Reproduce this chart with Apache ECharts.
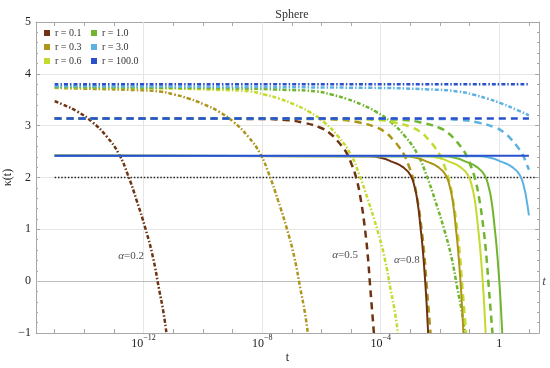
<!DOCTYPE html>
<html><head><meta charset="utf-8">
<script src="https://cdn.jsdelivr.net/npm/echarts@6/dist/echarts.min.js"></script>
<style>html,body{margin:0;padding:0;background:#fff}#c{width:550px;height:368px}</style>
</head><body><div id="c"></div>
<script>
// x values are log10(t), y values are kappa(t)
const rLabels = ['r = 0.1', 'r = 0.3', 'r = 0.6', 'r = 1.0', 'r = 3.0', 'r = 100.0'];
const xLabelExponents = [-12, -8, -4, 0];
const yTicks = [-1, 0, 1, 2, 3, 4, 5];

// alpha = 0.2 (dot-dashed)
const a02_r01 = [[-15,3.47],[-14.73,3.41],[-14.23,3.27],[-13.73,3.07],[-13.23,2.78],[-12.83,2.45],[-12.53,2.05],[-12.23,1.55],[-11.93,1.0],[-11.68,0.45],[-11.48,-0.15],[-11.33,-0.6],[-11.23,-1]];
const a02_r03 = [[-15,3.73],[-14.46,3.72],[-12.46,3.69],[-11.46,3.66],[-10.96,3.60],[-10.46,3.52],[-9.96,3.41],[-9.46,3.27],[-8.96,3.07],[-8.46,2.78],[-8.06,2.45],[-7.76,2.05],[-7.46,1.55],[-7.16,1.0],[-6.91,0.45],[-6.71,-0.15],[-6.56,-0.6],[-6.46,-1]];
const a02_r06 = [[-15,3.74],[-11.42,3.72],[-9.42,3.69],[-8.42,3.66],[-7.92,3.60],[-7.42,3.52],[-6.92,3.41],[-6.42,3.27],[-5.92,3.07],[-5.42,2.78],[-5.02,2.45],[-4.72,2.05],[-4.42,1.55],[-4.12,1.0],[-3.87,0.45],[-3.67,-0.15],[-3.52,-0.6],[-3.42,-1]];
const a02_r10 = [[-15,3.74],[-9.16,3.72],[-7.16,3.69],[-6.16,3.66],[-5.66,3.60],[-5.16,3.52],[-4.66,3.41],[-4.16,3.27],[-3.66,3.07],[-3.16,2.78],[-2.76,2.45],[-2.46,2.05],[-2.16,1.55],[-1.86,1.0],[-1.61,0.45],[-1.41,-0.15],[-1.26,-0.6],[-1.16,-1]];
const a02_r30 = [[-15,3.76],[-4.39,3.73],[-2.39,3.70],[-1.39,3.66],[-0.89,3.60],[-0.39,3.52],[0.11,3.42],[0.61,3.30],[1.0,3.2]];
const a02_r100 = [[-15,3.8],[1,3.8]];

// alpha = 0.5 (dashed)
const a05_r01 = [[-15,3.14],[-8.23,3.13],[-7.23,3.11],[-6.63,3.06],[-6.03,2.96],[-5.73,2.86],[-5.48,2.72],[-5.28,2.58],[-5.13,2.45],[-4.98,2.25],[-4.83,2.0],[-4.68,1.6],[-4.53,1.0],[-4.43,0.45],[-4.37,0],[-4.30,-0.5],[-4.23,-1]];
const a05_r03 = [[-15,3.14],[-6.32,3.13],[-5.32,3.11],[-4.72,3.06],[-4.12,2.96],[-3.82,2.86],[-3.57,2.72],[-3.37,2.58],[-3.22,2.45],[-3.07,2.25],[-2.92,2.0],[-2.77,1.6],[-2.62,1.0],[-2.52,0.45],[-2.46,0],[-2.39,-0.5],[-2.32,-1]];
const a05_r06 = [[-15,3.14],[-5.12,3.13],[-4.12,3.11],[-3.52,3.06],[-2.92,2.96],[-2.62,2.86],[-2.37,2.72],[-2.17,2.58],[-2.02,2.45],[-1.87,2.25],[-1.72,2.0],[-1.57,1.6],[-1.42,1.0],[-1.32,0.45],[-1.26,0],[-1.19,-0.5],[-1.12,-1]];
const a05_r10 = [[-15,3.14],[-4.23,3.13],[-3.23,3.11],[-2.63,3.06],[-2.03,2.96],[-1.73,2.86],[-1.48,2.72],[-1.28,2.58],[-1.13,2.45],[-0.98,2.25],[-0.83,2.0],[-0.68,1.6],[-0.53,1.0],[-0.43,0.45],[-0.37,0],[-0.30,-0.5],[-0.23,-1]];
const a05_r30 = [[-15,3.14],[-2.32,3.13],[-1.32,3.11],[-0.72,3.06],[-0.12,2.96],[0.18,2.86],[0.43,2.72],[0.63,2.58],[0.78,2.45],[0.93,2.25],[1.0,2.15]];
const a05_r100 = [[-15,3.14],[1,3.14]];

// alpha = 0.8 (solid)
const a08_r01 = [[-15,2.42],[-4.4,2.41],[-4.0,2.38],[-3.6,2.30],[-3.25,2.2],[-3.0,2.05],[-2.85,1.8],[-2.75,1.5],[-2.65,1.0],[-2.58,0.6],[-2.5,0],[-2.45,-0.45],[-2.4,-1]];
const a08_r03 = [[-15,2.42],[-3.21,2.41],[-2.81,2.38],[-2.41,2.30],[-2.06,2.2],[-1.81,2.05],[-1.66,1.8],[-1.56,1.5],[-1.46,1.0],[-1.39,0.6],[-1.31,0],[-1.26,-0.45],[-1.21,-1]];
const a08_r06 = [[-15,2.42],[-2.46,2.41],[-2.06,2.38],[-1.66,2.30],[-1.31,2.2],[-1.06,2.05],[-0.91,1.8],[-0.81,1.5],[-0.71,1.0],[-0.64,0.6],[-0.56,0],[-0.51,-0.45],[-0.46,-1]];
const a08_r10 = [[-15,2.42],[-1.9,2.41],[-1.5,2.38],[-1.1,2.30],[-0.75,2.2],[-0.5,2.05],[-0.35,1.8],[-0.25,1.5],[-0.15,1.0],[-0.08,0.6],[0.0,0],[0.05,-0.45],[0.1,-1]];
const a08_r30 = [[-15,2.42],[-0.71,2.41],[-0.31,2.38],[0.09,2.30],[0.44,2.2],[0.69,2.05],[0.84,1.8],[0.94,1.5],[1.0,1.27]];
const a08_r100 = [[-15,2.42],[1,2.42]];

// reference dotted line
const refLine = [[-15,2],[1.2,2]];

// annotations
const annotText = ['α=0.2', 'α=0.5', 'α=0.8'];
const annotX = [-12.42, -5.2, -3.12];
const annotY = [0.49, 0.5, 0.41];

const SERIF = '"Liberation Serif", "Times New Roman", serif';
const COLORS = ['#6e3312', '#ad951c', '#c4da2e', '#70b52e', '#5db2e2', '#2b50cc'];
const STYLES = {
  '0.2': {type: [4, 2, 1.5, 2], width: 2.5},
  '0.5': {type: [7, 5], width: 2.5},
  '0.8': {type: 'solid', width: 2}
};
const groups = [
  ['0.2', [a02_r01, a02_r03, a02_r06, a02_r10, a02_r30, a02_r100]],
  ['0.5', [a05_r01, a05_r03, a05_r06, a05_r10, a05_r30, a05_r100]],
  ['0.8', [a08_r01, a08_r03, a08_r06, a08_r10, a08_r30, a08_r100]]
];

const series = [];
series.push({
  type: 'line', name: 'ref', data: refLine, symbol: 'none', silent: true, z: 2,
  lineStyle: {color: '#222', width: 1.5, type: [1.5, 1.8], cap: 'butt'},
  markLine: {
    silent: true, z: 1, symbol: ['none', 'none'], label: {show: false}, animation: false,
    lineStyle: {color: '#e6e6e6', width: 1, type: 'solid'},
    data: xLabelExponents.map(e => ({xAxis: e})).concat([{yAxis: 0, lineStyle: {color: '#bdbdbd', width: 1, type: 'solid'}}])
  }
});
groups.forEach(([a, arrs]) => {
  arrs.forEach((d, i) => {
    series.push({
      type: 'line', name: rLabels[i], data: d, symbol: 'none', showSymbol: false,
      silent: true, smooth: 0.5, z: 3,
      color: COLORS[i],
      lineStyle: {color: COLORS[i], width: STYLES[a].width, type: STYLES[a].type, cap: 'butt'}
    });
  });
});
series.push({
  type: 'scatter', silent: true, clip: false, symbolSize: 0, z: 5,
  data: annotText.map((t, i) => ({value: [annotX[i], annotY[i]],
    label: {formatter: '{i|α}' + t.slice(1)}})).concat([
    {value: [1.51, 0], label: {formatter: '{i|t}', rich: {i: {fontStyle: 'italic', fontSize: 13, fontFamily: SERIF, color: '#222'}}}}
  ]),
  label: {show: true, position: 'inside', fontFamily: SERIF, fontSize: 11, color: '#222',
    rich: {i: {fontStyle: 'italic', fontFamily: SERIF, fontSize: 11, color: '#222'}}}
});

const xMin = -15.63, xMax = 1.34;
const axisGray = '#a8a8a8';
const xLabelFmt = v => {
  const k = Math.round(v);
  if (Math.abs(v - k) > 1e-6 || xLabelExponents.indexOf(k) < 0) return '';
  return k === 0 ? '{b|1}' : '{b|10}{s|−' + (-k) + '}';
};

const option = {
  animation: false,
  backgroundColor: '#fff',
  title: {text: 'Sphere', left: 287, top: 4, textAlign: 'center',
    textStyle: {fontFamily: SERIF, fontSize: 12, fontWeight: 'normal', color: '#333'}},
  legend: [
    {data: rLabels.slice(0, 3), orient: 'vertical', left: 44, top: 26, padding: 0,
     icon: 'rect', itemWidth: 6, itemHeight: 6, itemGap: 0, selectedMode: false,
     lineStyle: {width: 0, opacity: 0},
     textStyle: {fontFamily: SERIF, fontSize: 10, color: '#333', lineHeight: 14}},
    {data: rLabels.slice(3), orient: 'vertical', left: 91, top: 26, padding: 0,
     icon: 'rect', itemWidth: 6, itemHeight: 6, itemGap: 0, selectedMode: false,
     lineStyle: {width: 0, opacity: 0},
     textStyle: {fontFamily: SERIF, fontSize: 10, color: '#333', lineHeight: 14}}
  ],
  grid: {left: 36, right: 11, top: 22, bottom: 35, containLabel: false, outerBoundsMode: 'none'},
  xAxis: [
    {type: 'value', position: 'bottom', min: xMin, max: xMax, splitNumber: 17, minInterval: 1, maxInterval: 1,
     name: 't', nameLocation: 'middle', nameGap: 19, nameMoveOverlap: false,
     nameTextStyle: {fontFamily: SERIF, fontSize: 12, color: '#222'},
     axisLine: {show: true, onZero: false, lineStyle: {color: axisGray}},
     axisTick: {show: true, inside: true, length: 4, lineStyle: {color: axisGray}},
     splitLine: {show: false},
     axisLabel: {show: true, margin: 1, formatter: xLabelFmt, fontFamily: SERIF, color: '#222',
       rich: {b: {fontFamily: SERIF, fontSize: 12, color: '#222', lineHeight: 16, verticalAlign: 'bottom'},
              s: {fontFamily: SERIF, fontSize: 8, color: '#222', lineHeight: 8, verticalAlign: 'top'}}}},
    {type: 'value', position: 'top', min: xMin, max: xMax, splitNumber: 17, minInterval: 1, maxInterval: 1,
     axisLine: {show: true, onZero: false, lineStyle: {color: axisGray}},
     axisTick: {show: true, inside: true, length: 4, lineStyle: {color: axisGray}},
     splitLine: {show: false}, axisLabel: {show: false}}
  ],
  yAxis: [
    {type: 'value', position: 'left', min: -1, max: 5, interval: 1,
     name: 'κ(t)', nameLocation: 'middle', nameGap: 22, nameRotate: 90, nameMoveOverlap: false,
     nameTextStyle: {fontFamily: SERIF, fontSize: 12, color: '#222'},
     axisLine: {show: true, onZero: false, lineStyle: {color: axisGray}},
     axisTick: {show: true, inside: true, length: 4, lineStyle: {color: axisGray}},
     minorTick: {show: true, splitNumber: 5, length: 2, lineStyle: {color: axisGray}},
     splitLine: {show: true, lineStyle: {color: '#e6e6e6', width: 1}},
     axisLabel: {show: true, margin: 5, fontFamily: SERIF, fontSize: 12, color: '#222',
       formatter: v => (yTicks.indexOf(v) >= 0 ? (v < 0 ? '−' + (-v) : '' + v) : '')}},
    {type: 'value', position: 'right', min: -1, max: 5, interval: 1,
     axisLine: {show: true, onZero: false, lineStyle: {color: axisGray}},
     axisTick: {show: true, inside: true, length: 4, lineStyle: {color: axisGray}},
     minorTick: {show: true, splitNumber: 5, length: 2, lineStyle: {color: axisGray}},
     splitLine: {show: false}, axisLabel: {show: false}}
  ],
  series: series
};
const chart = echarts.init(document.getElementById('c'), null, {renderer: 'canvas'});
chart.setOption(option);
</script>
</body></html>
